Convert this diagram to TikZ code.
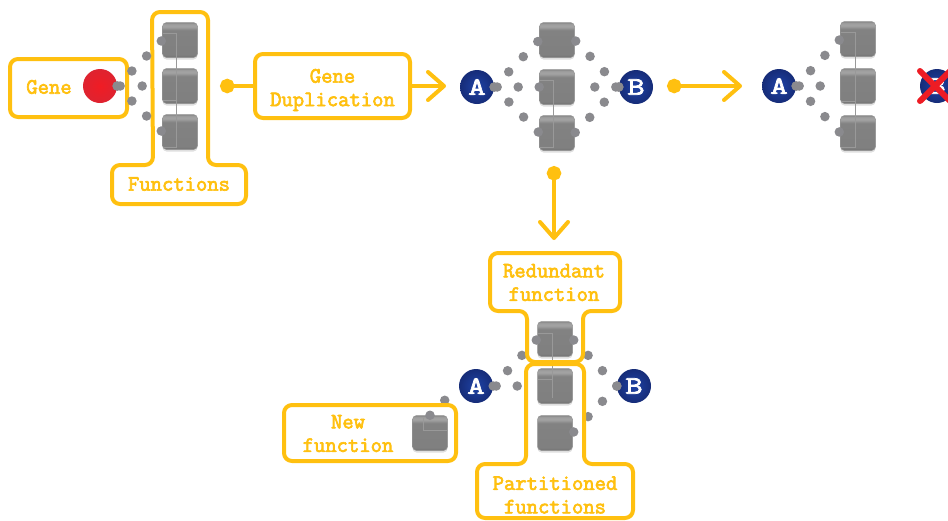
\documentclass[tikz,border=0pt]{standalone}
\usepackage{tikz}
\usepackage{xcolor}
\usepackage{fontspec}
\usetikzlibrary{positioning,arrows.meta,shadows}
\newfontfamily\tagfont[FakeBold=3]{Latin Modern Mono}
\newfontfamily\ballfont[FakeBold=3,FakeStretch=1.35]{Latin Modern Mono}
\definecolor{callout}{RGB}{255,192,16}
\definecolor{dotgray}{RGB}{138,138,142}
\definecolor{crossred}{RGB}{237,28,36}
\definecolor{blueedge}{RGB}{22,44,120}
\definecolor{bluemid}{RGB}{30,66,165}
\definecolor{rededge}{RGB}{222,35,48}
\definecolor{redmid}{RGB}{240,28,36}
\pgfdeclareverticalshading{boxshade}{100bp}{
  color(0bp)=(black!58); color(25bp)=(black!58); color(27bp)=(black!52);
  color(29bp)=(black!50); color(64bp)=(black!49); color(69bp)=(black!36);
  color(73bp)=(black!38); color(75bp)=(black!48); color(100bp)=(black!48)}

\begin{document}
\begin{tikzpicture}[
    x=1pt, y=-1pt,
    outline/.style={draw=callout, line width=4pt, rounded corners=8pt, line join=round},
    tag/.style={outline, inner sep=0pt, align=center},
    txt/.style={callout, font=\fontsize{22}{23.5}\selectfont\tagfont, align=center, inner sep=0pt},
    func/.style={minimum width=35pt, minimum height=35pt, inner sep=0pt, rounded corners=4pt,
        shading=boxshade, draw=black!42, line width=0.5pt,
        drop shadow={shadow xshift=0pt, shadow yshift=-2pt, opacity=0.25}},
    ball/.style={circle, minimum size=34pt, inner sep=0pt, text=white, shading=radial,
        font=\fontsize{25}{25}\selectfont\ballfont},
    bluegene/.style={ball, inner color=bluemid, outer color=blueedge},
    redgene/.style={ball, inner color=redmid, outer color=rededge},
    dots/.style={dotgray, line width=9.5pt, line cap=round, dash pattern=on 0pt off #1},
    dots/.default=21pt,
    ghost/.style={black!40, line width=0.3pt},
    arrow/.style={callout, line width=4pt, line cap=round, -{Straight Barb[length=16pt,width=28pt,round]}},
    link/.style={callout, line width=4pt, {Circle[length=14.5pt,width=14.5pt]}-},
    dotarrow/.style={arrow, {Circle[length=14.5pt,width=14.5pt]}-{Straight Barb[length=16pt,width=28pt,round]}}
]
\useasboundingbox (0,0) rectangle (948,520);

% Gene
\node[redgene] (gene) at (100,86) {};
\node[func] (f1) at (180,40) {};
\node[func] (f2) at (180,86) {};
\node[func] (f3) at (180,132) {};
\draw[ghost] (163,33) -- (176,33) -- (176,147) -- (163,147);
\draw[ghost] (163,100) -- (176,100);
\draw[outline] (10,59) rectangle (127,117);
\node[txt] (genelabel) at (49,87) {Gene};

% Functions
\draw[outline] (152,12) -- (208,12) -- (208,165) -- (246,165) -- (246,204) -- (112,204) -- (112,165) -- (153,165) -- cycle;
\node[txt] (funclabel) at (179,184) {Functions};

\draw[dots] (gene.east) -- (f1.west);
\draw[dots=22pt] ([xshift=3pt]gene.east) -- (f2.west);
\draw[dots] (gene.east) -- (f3.west);

% Duplication
\node[tag, minimum width=155pt, minimum height=64pt] (dup) at (332.5,86) {};
\node[txt] (duplabel) at (332.5,90) {Gene\\Duplication};
\coordinate (dupdot) at (220,86);
\coordinate (duptip) at (446,86);
\draw[link] (dupdot) -- (dup.west);
\draw[arrow] (dup.east) -- (duptip);

% Two copies
\node[bluegene] (a1) at (477,87) {A};
\node[bluegene] (b1) at (636,87) {B};
\node[func] (g1) at (557,40) {};
\node[func] (g2) at (557,87) {};
\node[func] (g3) at (557,133) {};
\draw[ghost] (539,80) -- (553,80) -- (553,147) -- (539,147);
\foreach \n in {g1,g3} {
    \draw[dots] (a1.east) -- (\n.west);
    \draw[dots] (b1.west) -- (\n.east);
}
\draw[dots] ([xshift=3pt]a1.east) -- (g2.west);
\draw[dots] ([xshift=-3pt]b1.west) -- (g2.east);

% Loss of B
\coordinate (lossdot) at (667,86);
\coordinate (losstip) at (742,86);
\draw[dotarrow] (lossdot) -- (losstip);
\node[bluegene] (a2) at (779,86) {A};
\node[func] (h1) at (858,39) {};
\node[func] (h2) at (858,86) {};
\node[func] (h3) at (858,133) {};
\draw[ghost] (841,32) -- (855,32) -- (855,147) -- (841,147);
\draw[ghost] (841,101) -- (855,101);
\foreach \n in {h1,h3} \draw[dots] (a2.east) -- (\n.west);
\draw[dots] ([xshift=3pt]a2.east) -- (h2.west);
\node[bluegene] (b2) at (937,86) {B};
\draw[crossred, line width=6pt, line cap=round] ([shift={(-17,-15)}]b2.center) -- ([shift={(15,17)}]b2.center);
\draw[crossred, line width=6pt, line cap=round] ([shift={(-17,15)}]b2.center) -- ([shift={(15,-17)}]b2.center);

% Split
\coordinate (splitdot) at (554,166);
\coordinate (splittip) at (554,240);
\draw[dotarrow] (splitdot) -- (splittip);

% Bottom copies
\node[bluegene] (a3) at (476,386) {A};
\node[bluegene] (b3) at (634,386) {B};
\node[func] (r1) at (555,339) {};
\node[func] (p1) at (555,386) {};
\node[func] (p2) at (555,433) {};
\node[func] (n1) at (430,433) {};
\draw[ghost] (538,333) -- (552,333) -- (552,398);
\draw[ghost] (538,379) -- (552,379);
\draw[ghost] (423,418) -- (423,430) -- (447,430);
\draw[dots] (a3.east) -- (r1.west);
\draw[dots] ([xshift=3pt]a3.east) -- (p1.west);
\draw[dots] (b3.west) -- (r1.east);
\draw[dots] (b3.west) -- (p2.east);
\draw[dots, shorten >=10pt] (n1.north) -- (a3.west);

% Labels
\draw[outline] (490,253) -- (620,253) -- (620,311) -- (583,311) -- (583,362) -- (527,362) -- (527,311) -- (490,311) -- cycle;
\node[txt] (redlabel) at (554,282.5) {Redundant\\function};
\draw[outline] (526,364) -- (584,364) -- (584,464) -- (633,464) -- (633,518) -- (477,518) -- (477,464) -- (526,464) -- cycle;
\node[txt] (partlabel) at (555,495) {Partitioned\\functions};
\draw[outline] (284,405) rectangle (456,461);
\node[txt] (newlabel) at (348,433.5) {New\\function};
\end{tikzpicture}
\end{document}
